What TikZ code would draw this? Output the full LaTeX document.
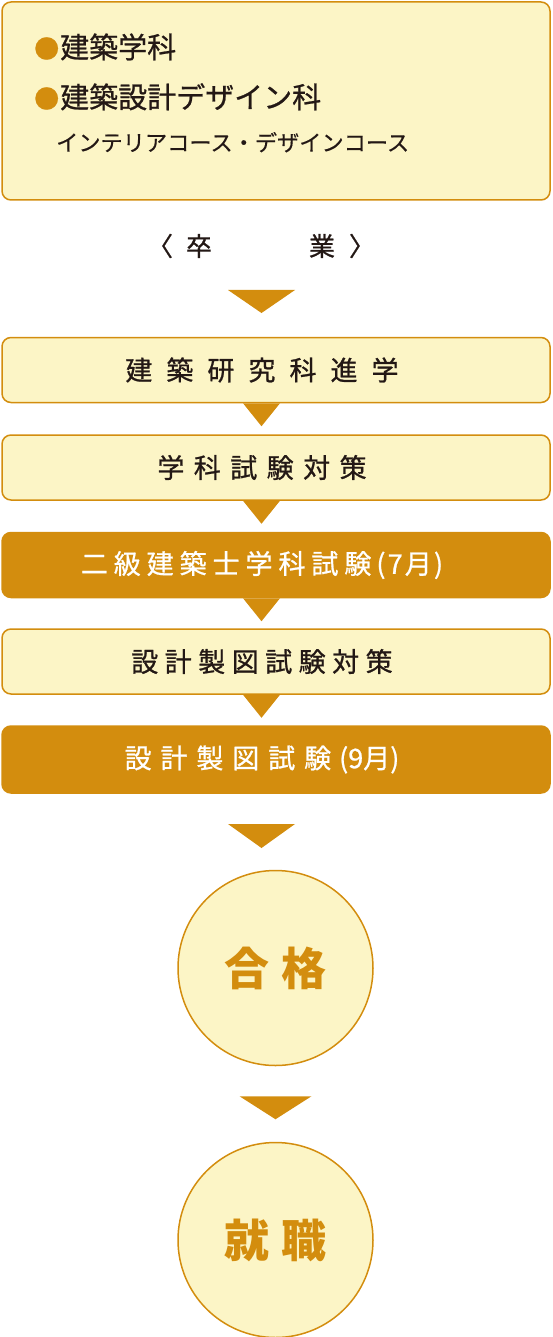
\documentclass[tikz,border=0pt]{standalone}
\usepackage{fontspec}
\setmainfont{Noto Sans CJK JP}
\definecolor{Gold}{RGB}{211, 141, 14}
\definecolor{Cream}{RGB}{252, 245, 198}
\definecolor{InkBrown}{RGB}{35, 24, 21}
\usetikzlibrary{positioning, calc}

\begin{document}
\begin{tikzpicture}[x=1pt, y=-1pt,
        stage/.style={rectangle, draw=Gold, line width=1.5pt, fill=Cream, rounded corners=9pt, minimum width=548pt, minimum height=65pt, text=InkBrown, font=\fontsize{27}{30}\selectfont\addfontfeature{FakeBold=0.8}, execute at begin node={\hspace*{-28pt}}},
        exam/.style={stage, fill=Gold, text=white},
        goal/.style={circle, draw=Gold, line width=1.5pt, fill=Cream, minimum size=195pt, text=Gold, font=\fontsize{45}{50}\selectfont\bfseries},
        course/.style={anchor=base west, inner sep=0pt, text=InkBrown},
        tri/.style={fill=Gold}
    ]
        \useasboundingbox (0,0) rectangle (552,1337);
        % departments
        \node[stage, minimum height=198pt, execute at begin node={}] (dept) at (276,101) {};
        \node[course, font=\fontsize{29}{32}\selectfont\addfontfeature{FakeBold=0.8}] (arch) at (34,58) {\textcolor{Gold}{\fontsize{25}{28}\selectfont ●}\kern1pt 建築学科};
        \node[course, font=\fontsize{29}{32}\selectfont\addfontfeature{FakeBold=0.8}] (design) at (34,108) {\textcolor{Gold}{\fontsize{25}{28}\selectfont ●}\kern1pt 建築設計デザイン科};
        \node[course, font=\fontsize{22.2}{24}\selectfont\addfontfeature{FakeBold=0.4}] (courses) at (56,151) {インテリアコース・デザインコース};
        \node[text=InkBrown, font=\fontsize{26}{28}\selectfont\addfontfeature{FakeBold=0.8}] (grad) at (261,246) {〈\hspace{13pt}卒\hspace{97pt}業\hspace{14pt}〉};
        \fill[tri] (228,290) -- (295,290) -- (261.5,313) -- cycle;
        % steps
        \node[stage] (lab) at (276,370) {\addfontfeature{LetterSpace=52}建築研究科進学};
        \node[stage] (prep1) at (276,467.5) {\addfontfeature{LetterSpace=35}学科試験対策};
        \node[exam] (exam1) at (276,565) {{\addfontfeature{LetterSpace=22}二級建築士学科試験}\hspace{5pt}{\addfontfeature{LetterSpace=8}(7月)}};
        \node[stage] (prep2) at (276,661.5) {\addfontfeature{LetterSpace=24}設計製図試験対策};
        \node[exam, minimum height=67pt] (exam2) at (276,759.5) {{\addfontfeature{LetterSpace=33}設計製図試験}\hspace{8pt}(9月)\hspace{2pt}};
        \foreach \n in {lab, prep1, exam1, prep2}
            \fill[tri] ($(\n.south)+(-33,0)$) -- ++(37,0) -- ++(-18.5,23) -- cycle;
        \fill[tri] (228,824) -- (295,824) -- (261.5,848) -- cycle;
        % results
        \node[goal] (pass) at (275.5,968) {合\hspace{12pt}格};
        \node[goal] (job) at (275.5,1240) {就\hspace{12pt}職};
        \fill[tri] ($(pass.south)+(-36,30)$) -- ++(72,0) -- ++(-36,23) -- cycle;
    \end{tikzpicture}
\end{document}
